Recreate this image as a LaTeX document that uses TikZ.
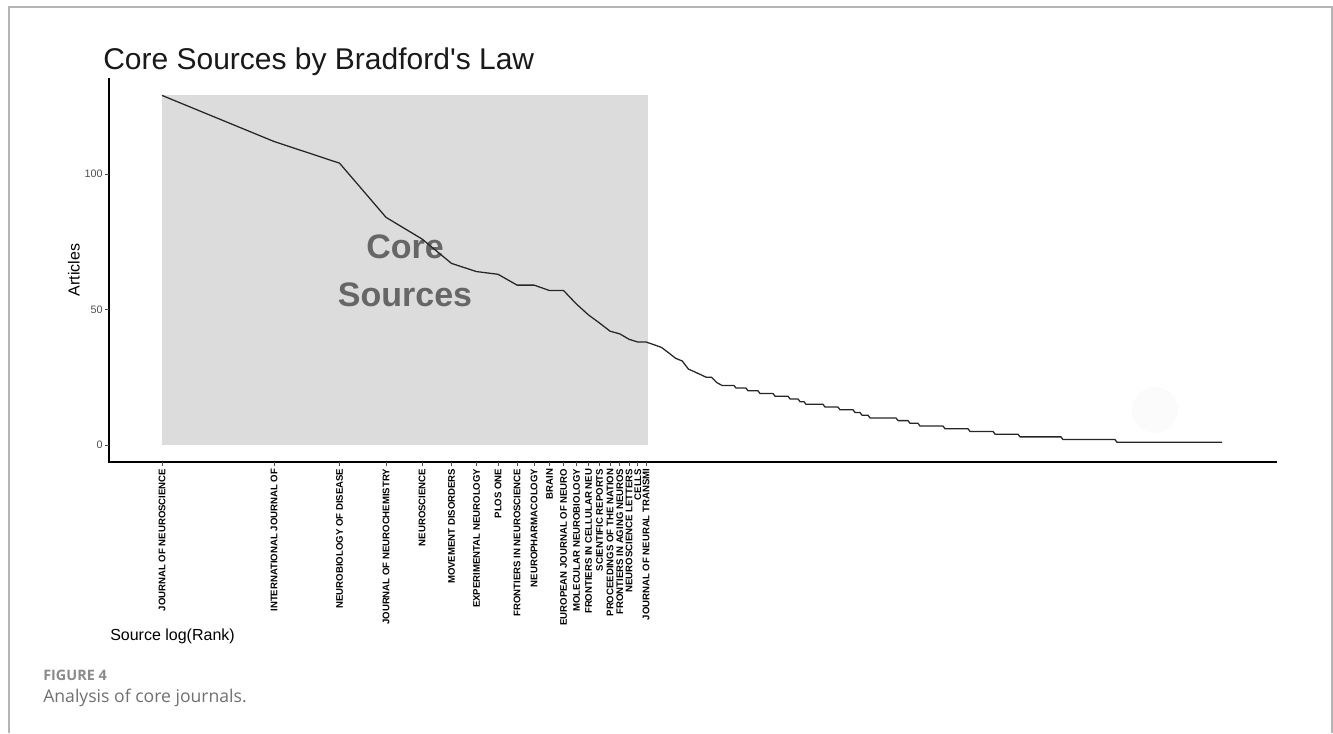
\documentclass[tikz,border=0pt]{standalone}
\usepackage{fontspec}
\setmainfont{Liberation Sans}
\newfontfamily\capfont{Open Sans}
\usetikzlibrary{positioning}
\definecolor{boxgray}{HTML}{DCDCDC}
\definecolor{annot}{HTML}{666666}
\definecolor{ticktxt}{HTML}{4D4D4D}
\definecolor{framegray}{HTML}{B4B4B4}
\definecolor{capgray}{HTML}{8A8A8A}
\definecolor{captxt}{HTML}{707070}

\begin{document}
\begin{tikzpicture}[x=0.75pt,y=-0.75pt,inner sep=0pt,
asse/.style={line width=0.9pt,black},
curva/.style={line width=0.95pt,black!85,line join=round},
tacca/.style={line width=0.6pt,ticktxt},
fonte/.style={font=\bfseries\fontsize{7.2}{7.2}\selectfont,rotate=90,anchor=east},
valore/.style={font=\fontsize{8.1}{8.1}\selectfont,text=ticktxt,anchor=east},
titoloasse/.style={font=\fontsize{12}{12}\selectfont},
nucleo/.style={font=\bfseries\fontsize{25.5}{25.5}\selectfont,text=annot}
]
\useasboundingbox (0,0) rectangle (1333,733);
\draw[framegray,line width=1.1pt] (9,733) -- (9,7) -- (1332,7) -- (1332,733);
%--
\node[anchor=base west,font=\fontsize{22.5}{22.5}\selectfont,text=black!90](titolo) at (103,69){Core Sources by Bradford\textquotesingle s Law};
%-- zona core
\fill[boxgray] (162,95) rectangle (648,445);
\fill[black!1.5] (1155,410) circle (23);
%--
\node[nucleo,anchor=base](core) at (405,258){Core};
\node[nucleo,below=18pt of core](srcs){Sources};
%-- curva
\draw[curva] (162,{445-2.71*129})
  \foreach \r/\v in {2/112,3/104,4/84,5/76,6/67,7/64,8/63,9/59,10/59,11/57,12/57,13/52,14/48,15/45,16/42,17/41,18/39,19/38,20/38}
    { -- ({162+161.6*ln(\r)},{445-2.71*\v}) }
  \foreach \x/\v in {654/37,661.5/36,668.7/34,675.6/32,682.2/31,688.5/28,694.6/27,700.5/26,706.2/25,711.6/25,716.9/23,722/22,734/22,736/21,746/21,748/20,758/20,760/19,773/19,775/18,788/18,790/17,798/17,800/16,804/16,806/15,823/15,825/14,838/14,840/13,853/13,855/12,860/12,862/11,868/11,870/10,896/10,898/9,908/9,910/8,918/8,920/7,943/7,945/6,968/6,970/5,993/5,995/4,1018/4,1020/3,1061/3,1063/2,1115/2,1117/1,1222/1}
    { -- (\x,{445-2.71*\v}) };
%-- assi
\draw[asse] (109,78) -- (109,462) -- (1277,462);
\foreach \v in {0,50,100}{
  \draw[tacca] (105,{445-2.71*\v}) -- (109,{445-2.71*\v});
  \node[valore](val\v) at (103,{445-2.71*\v}){\v};
}
\node[titoloasse,rotate=90](ylab) at (74,270){Articles};
\node[titoloasse,anchor=base west](xlab) at (110,640){Source log(Rank)};
%-- fonti
\foreach \r/\nome in {1/JOURNAL OF NEUROSCIENCE,2/INTERNATIONAL JOURNAL OF,3/NEUROBIOLOGY OF DISEASE,4/JOURNAL OF NEUROCHEMISTRY,5/NEUROSCIENCE,6/MOVEMENT DISORDERS,7/EXPERIMENTAL NEUROLOGY,8/PLOS ONE,9/FRONTIERS IN NEUROSCIENCE,10/NEUROPHARMACOLOGY,11/BRAIN,12/EUROPEAN JOURNAL OF NEURO,13/MOLECULAR NEUROBIOLOGY,14/FRONTIERS IN CELLULAR NEU,15/SCIENTIFIC REPORTS,16/PROCEEDINGS OF THE NATION,17/FRONTIERS IN AGING NEUROS,18/NEUROSCIENCE LETTERS,19/CELLS,20/JOURNAL OF NEURAL TRANSMI}{
  \draw[tacca] ({162+161.6*ln(\r)},462) -- ({162+161.6*ln(\r)},466);
  \node[fonte](lab\r) at ({162+161.6*ln(\r)},468.5){\nome};
}
%-- didascalia
\node[anchor=base west,font=\capfont\bfseries\fontsize{10.8}{10.8}\selectfont,text=capgray](fig) at (43,680){FIGURE 4};
\node[anchor=base west,font=\capfont\fontsize{13.2}{13.2}\selectfont,text=captxt](capt) at (43,702){Analysis of core journals.};
\end{tikzpicture}
\end{document}
